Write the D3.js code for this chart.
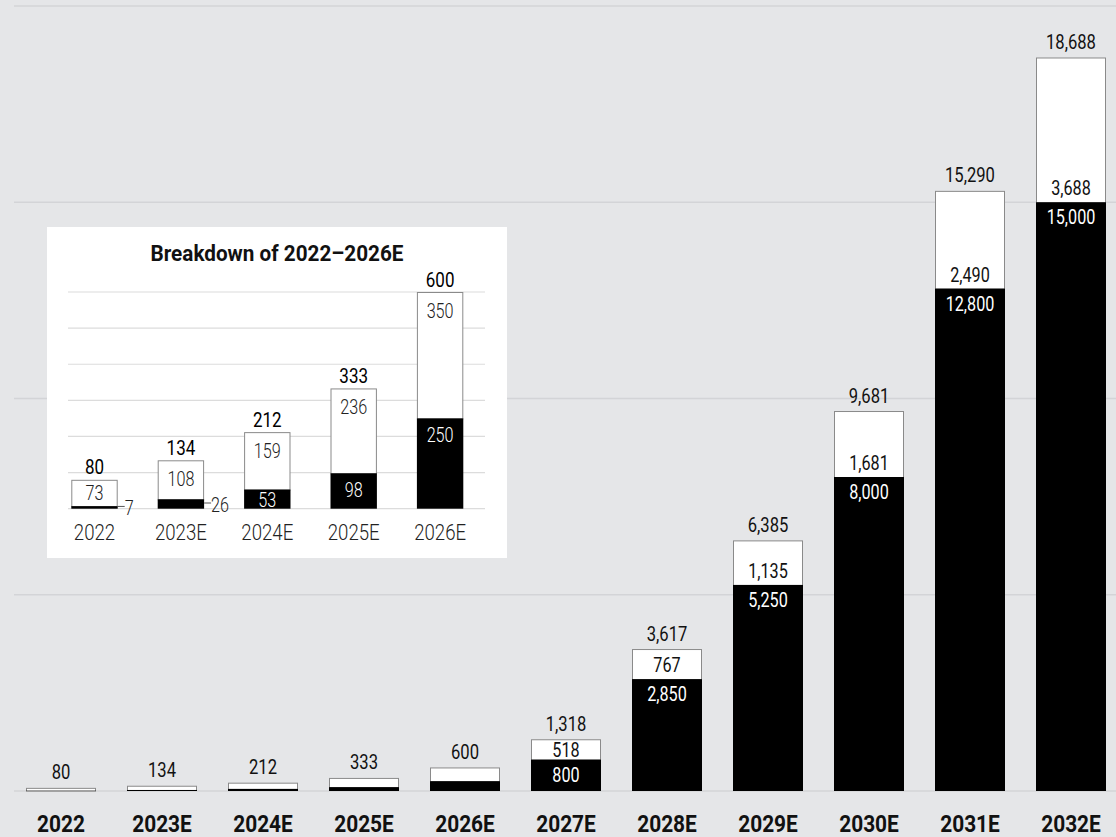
<!DOCTYPE html>
<html>
<head>
<meta charset="utf-8">
<script src="https://cdn.jsdelivr.net/npm/d3@7"></script>
<style>
  html, body { margin: 0; padding: 0; background: #e5e6e8; }
  svg { display: block; font-family: Roboto, "Liberation Sans", "DejaVu Sans", sans-serif; }
</style>
</head>
<body>
<div id="chart"></div>
<script>
/* ===== Data ===== */
const years = ["2022", "2023E", "2024E", "2025E", "2026E", "2027E", "2028E", "2029E", "2030E", "2031E", "2032E"];
const blackVals = [7, 26, 53, 98, 250, 800, 2850, 5250, 8000, 12800, 15000];
const whiteVals = [73, 108, 159, 236, 350, 518, 767, 1135, 1681, 2490, 3688];
const totals = [80, 134, 212, 333, 600, 1318, 3617, 6385, 9681, 15290, 18688];
const mainTicks = [0, 5000, 10000, 15000, 20000];

const insetYears = ["2022", "2023E", "2024E", "2025E", "2026E"];
const insetBlack = [7, 26, 53, 98, 250];
const insetWhite = [73, 108, 159, 236, 350];
const insetTotals = [80, 134, 212, 333, 600];
const insetTicks = [0, 100, 200, 300, 400, 500, 600];
const insetTitle = "Breakdown of 2022–2026E";

/* ===== Constants ===== */
const width = 1116, height = 837;
const gridColor = "#d3d4d7";
const outline = "#8a8a8a";
const narrow = 0.81;   // horizontal squeeze so the type reads like a condensed face
const fmt = d3.format(",");

// place a text with a translate and a horizontal squeeze
function place(sel, fx, fy, sx) {
    return sel.attr("transform", (d, i) => `translate(${fx(d, i)},${fy(d, i)}) scale(${sx},1)`);
}

const svg = d3.select("#chart").append("svg")
    .attr("width", width)
    .attr("height", height);

svg.append("rect").attr("width", width).attr("height", height).attr("fill", "#e5e6e8");

const rows = years.map((y, i) => ({year: y, black: blackVals[i], white: whiteVals[i], total: totals[i], i: i}));

/* ===== Main chart ===== */
const x = d3.scaleBand()
    .domain(years)
    .range([10.5, 1121.5])
    .paddingInner(0.307)
    .paddingOuter(0.1535);

const y = d3.scaleLinear()
    .domain([0, 20000])
    .range([791, 6]);

const mid = d => x(d.year) + x.bandwidth() / 2;

// horizontal grid lines
svg.append("g")
   .selectAll("line")
   .data(mainTicks)
   .join("line")
   .attr("x1", 14).attr("x2", width)
   .attr("y1", d => y(d)).attr("y2", d => y(d))
   .attr("stroke", gridColor)
   .attr("stroke-width", 1.5);

const bars = svg.append("g").selectAll("g").data(rows).join("g");

bars.append("rect")
    .attr("x", d => x(d.year) + 0.5)
    .attr("width", x.bandwidth() - 1)
    .attr("y", d => y(d.total) + 0.5)
    .attr("height", d => Math.max(0, y(d.black) - y(d.total)))
    .attr("fill", "#fff")
    .attr("stroke", outline)
    .attr("stroke-width", 1);

bars.append("rect")
    .attr("x", d => x(d.year))
    .attr("width", x.bandwidth())
    .attr("y", d => y(d.black))
    .attr("height", d => y(0) - y(d.black))
    .attr("fill", "#000");

// totals on top
place(bars.append("text"), mid, d => y(d.total) - 8.5, narrow)
    .attr("text-anchor", "middle")
    .attr("font-size", 20.5)
    .attr("fill", "#111")
    .text(d => fmt(d.total));

// inner labels only where the bars are tall enough
const big = bars.filter(d => d.i >= 5);

// white part: sits on the black part, or centred when the box is short
place(big.append("text"), mid, d => Math.max(y(d.black) - 7, (y(d.black) + y(d.total)) / 2 + 7.5), narrow)
    .attr("text-anchor", "middle")
    .attr("font-size", 20)
    .attr("fill", "#111")
    .text(d => fmt(d.white));

place(big.append("text"), mid, d => Math.min(y(d.black) + 22, (y(d.black) + y(0)) / 2 + 7.5), narrow)
    .attr("text-anchor", "middle")
    .attr("font-size", 20)
    .attr("fill", "#fff")
    .text(d => fmt(d.black));

// x axis labels
place(svg.append("g").selectAll("text").data(years).join("text"),
      d => x(d) + x.bandwidth() / 2, () => 832, 0.87)
   .attr("text-anchor", "middle")
   .attr("font-size", 24)
   .attr("font-weight", "bold")
   .attr("fill", "#111")
   .text(d => d);

/* ===== Inset ===== */
const inset = svg.append("g");

inset.append("rect")
     .attr("x", 47).attr("y", 227)
     .attr("width", 460).attr("height", 331)
     .attr("fill", "#fff");

const title = inset.append("text")
     .attr("text-anchor", "middle")
     .attr("font-size", 22)
     .attr("font-weight", "bold")
     .attr("fill", "#111")
     .text(insetTitle);
// squeeze the title to the width it has in the original
const titleLen = title.node().getComputedTextLength();
title.attr("transform", `translate(277,261) scale(${253 / titleLen},1)`);

const ix = d3.scaleBand()
    .domain(insetYears)
    .range([51.3, 483.3])
    .paddingInner(0.463)
    .paddingOuter(0.2315);

const iy = d3.scaleLinear()
    .domain([0, 600])
    .range([508.7, 292]);

inset.append("g")
     .selectAll("line")
     .data(insetTicks)
     .join("line")
     .attr("x1", 68).attr("x2", 485)
     .attr("y1", d => iy(d)).attr("y2", d => iy(d))
     .attr("stroke", "#dcdcdc")
     .attr("stroke-width", 1.2);

const irows = insetYears.map((yr, i) => ({year: yr, black: insetBlack[i], white: insetWhite[i], total: insetTotals[i]}));
const ibars = inset.append("g").selectAll("g").data(irows).join("g");
const cx = d => ix(d.year) + ix.bandwidth() / 2;

ibars.append("rect")
     .attr("x", d => ix(d.year) + 0.5)
     .attr("width", ix.bandwidth() - 1)
     .attr("y", d => iy(d.total) + 0.5)
     .attr("height", d => iy(d.black) - iy(d.total))
     .attr("fill", "#fff")
     .attr("stroke", outline)
     .attr("stroke-width", 1);

ibars.append("rect")
     .attr("x", d => ix(d.year))
     .attr("width", ix.bandwidth())
     .attr("y", d => iy(d.black))
     .attr("height", d => iy(0) - iy(d.black))
     .attr("fill", "#000");

place(ibars.append("text"), cx, d => iy(d.total) - 5.5, narrow)
     .attr("text-anchor", "middle")
     .attr("font-size", 21)
     .attr("fill", "#000")
     .text(d => d.total);

place(ibars.append("text"), cx, d => Math.min(iy(d.total) + 26, iy(d.black) - 6.5), narrow)
     .attr("text-anchor", "middle")
     .attr("font-size", 20)
     .attr("font-weight", 300)
     .attr("fill", "#222")
     .text(d => d.white);

// black segment label: inside when there is room, else to the right with a tick
const thin = d => iy(0) - iy(d.black) < 14;

place(ibars.filter(d => !thin(d)).append("text"), cx, d => Math.min(iy(d.black) + 24, iy(0) - 2), narrow)
     .attr("text-anchor", "middle")
     .attr("font-size", 20)
     .attr("font-weight", 300)
     .attr("fill", "#fff")
     .text(d => d.black);

const side = ibars.filter(thin);
side.append("line")
    .attr("x1", d => ix(d.year) + ix.bandwidth())
    .attr("x2", d => ix(d.year) + ix.bandwidth() + 7)
    .attr("y1", d => (iy(d.black) + iy(0)) / 2 - 1)
    .attr("y2", d => (iy(d.black) + iy(0)) / 2 - 1)
    .attr("stroke", "#555")
    .attr("stroke-width", 1);

place(side.append("text"), d => ix(d.year) + ix.bandwidth() + 7, d => (iy(d.black) + iy(0)) / 2 + 7.5, narrow)
    .attr("font-size", 20)
    .attr("font-weight", 300)
    .attr("fill", "#222")
    .text(d => d.black);

place(inset.append("g").selectAll("text").data(insetYears).join("text"),
      d => ix(d) + ix.bandwidth() / 2, () => 540, narrow)
     .attr("text-anchor", "middle")
     .attr("font-size", 23)
     .attr("font-weight", 300)
     .attr("fill", "#222")
     .text(d => d);
</script>
</body>
</html>
